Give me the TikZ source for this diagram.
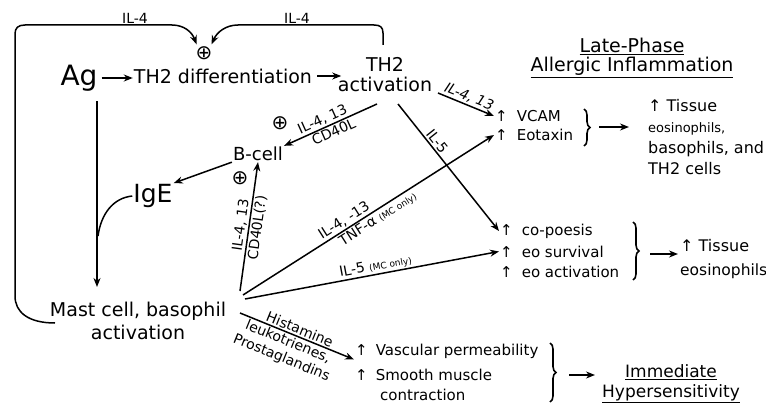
\documentclass[tikz,border=0pt]{standalone}
\usepackage{fontspec}
\setmainfont{DejaVu Sans}
\usetikzlibrary{arrows.meta,decorations.pathreplacing,calc}
\newcommand{\fsz}[2]{\fontsize{#1}{#2}\selectfont}
\begin{document}
\begin{tikzpicture}[x=1pt,y=-1pt,
  conn/.style={line width=1.5pt,-{Stealth[length=9pt,width=7pt]}},
  plainline/.style={line width=1.5pt},
  lab/.style={font=\fsz{14}{15}, inner sep=1.5pt},
  pls/.style={font=\fsz{20}{20}, inner sep=0pt},
  row/.style={font=\fsz{15}{18}, anchor=west, inner sep=1pt},
  brc/.style={decorate, decoration={brace,amplitude=6pt}, line width=1.6pt}
]
\useasboundingbox (0,0) rectangle (766,404);

% main nodes
\node[font=\fsz{28}{28}, inner sep=1pt] (ag) at (79,78) {Ag};
\node[font=\fsz{19}{20}, inner sep=1pt] (th2d) at (223,76) {TH2 differentiation};
\node[font=\fsz{19}{20}, align=center, inner sep=1pt] (th2a) at (385,75) {TH2\\activation};
\node[pls] (pl1) at (204,53) {⊕};
\node[font=\fsz{18}{20}, inner sep=1pt] (bcell) at (258,154) {B-cell};
\node[font=\fsz{25}{25}, inner sep=1pt] (ige) at (153,196) {IgE};
\node[font=\fsz{19}{23}, align=center, inner sep=1pt] (mast) at (138,321) {Mast cell, basophil\\activation};

% top labels
\node[lab] (il4a) at (135,18) {IL-4};
\node[lab] (il4b) at (297,18) {IL-4};

% title
\node[font=\fsz{19}{19}, align=center, inner sep=0pt] (late) at (632,58) {\underline{Late-Phase}\\\underline{Allergic Inflammation}};

% VCAM group
\node[row] (vcam) at (494,116) {↑\hspace{9pt}VCAM};
\node[row] (eot) at (494,135) {↑\hspace{9pt}Eotaxin};
\node[font=\fsz{16}{21.3}, align=left, anchor=west, inner sep=0pt] (tis1) at (648,137)
  {↑ Tissue\\{\fsz{13}{21.3}eosinophils,}\\basophils, and\\TH2 cells};

% eo group
\node[row] (copo) at (499,231) {↑\hspace{9pt}co-poesis};
\node[row] (surv) at (499,251.5) {↑\hspace{9pt}eo survival};
\node[row] (eoact) at (499,272) {↑\hspace{9pt}eo activation};
\node[font=\fsz{16}{24}, align=left, anchor=west, inner sep=0pt] (tis2) at (680,259)
  {↑ Tissue\\{\fsz{15.5}{24}eosinophils}};

% immediate group
\node[row] (vasc) at (354,351) {↑\hspace{8pt}Vascular permeability};
\node[row] (smooth) at (354,375) {↑\hspace{8pt}Smooth muscle};
\node[row] (contr) at (379,395) {contraction};
\node[font=\fsz{17}{20}, align=center, inner sep=0pt] (imm) at (671,384)
  {\underline{Immediate}\\\underline{Hypersensitivity}};

% plus signs
\node[pls] (pl2) at (280,123) {⊕};
\node[pls] (pl3) at (240,178) {⊕};

% coordinates for free ends
\coordinate (lpstart) at (55,323);
\coordinate (rpstart) at (383,45);
\coordinate (agdn) at (97,101);
\coordinate (agend) at (97,287);
\coordinate (igej) at (98,236);
\coordinate (t1) at (377,104);
\coordinate (t2) at (398,104);
\coordinate (t3) at (438,93);
\coordinate (mBc) at (240,291);
\coordinate (mEo) at (243,295);
\coordinate (mSv) at (245,299);
\coordinate (mHi) at (240,313);
\coordinate (b1) at (599,127);
\coordinate (b1e) at (629,127);
\coordinate (b2) at (650,254);
\coordinate (b2e) at (678,254);
\coordinate (b3) at (569,375);
\coordinate (b3e) at (595,375);

% feedback loops
\draw[conn, shorten >=2pt] (lpstart) .. controls (28,323) and (15,312) .. (15,296) -- (15,34)
  .. controls (15,28) and (18,25) .. (25,25) -- (172,25)
  .. controls (184,25) and (192,32) .. (pl1.135);
\draw[conn, shorten >=2pt] (rpstart) -- (383,33) .. controls (383,27) and (380,25) .. (374,25) -- (238,25)
  .. controls (226,25) and (217,32) .. (pl1.45);

% main flow
\draw[conn, shorten <=3pt] (ag.east) -- (ag.east -| th2d.west);
\draw[conn, shorten <=4pt] (th2d.east) -- ++(28,0) coordinate (th2in);
\draw[conn] (agdn) -- (agend);
\draw[plainline] (ige.west) .. controls (113,198) and (101,214) .. (igej);
\draw[conn] (bcell.south west) -- (ige.north east);

% TH2 activation outputs
\draw[conn] (t1) -- (bcell.north east)
  node[lab, pos=0.55, above, sloped] {IL-4, 13}
  node[lab, pos=0.5, below, sloped] {CD40L};
\draw[conn] (t2) -- (copo.west)
  node[lab, pos=0.33, above, sloped] {IL-5};
\draw[conn] (t3) -- (vcam.west)
  node[lab, pos=0.5, above, sloped, font=\fsz{14}{15}\itshape] {IL-4, 13};

% mast cell outputs
\draw[conn] (mBc) -- (bcell.south)
  node[lab, pos=0.5, above, sloped] {IL-4, 13}
  node[lab, pos=0.5, below, sloped] {CD40L(?)};
\draw[conn] (mEo) -- (eot.west)
  node[lab, pos=0.42, above, sloped] {IL-4, -13}
  node[lab, pos=0.52, below, sloped] {TNF-α {\fsz{9}{9}(MC only)}};
\draw[conn] (mSv) -- (surv.west)
  node[lab, pos=0.52, above, sloped] {IL-5 {\fsz{9}{9}(MC only)}};
\draw[conn] (mHi) -- (vasc.south west)
  node[lab, pos=0.5, above, sloped] {Histamine}
  node[lab, pos=0.45, below, sloped, align=center, font=\fsz{14}{17}] {leukotrienes,\\Prostaglandins};

% braces and result arrows
\draw[brc] (584,109) -- (584,146);
\draw[conn] (b1) -- (b1e);
\draw[brc] (633,222) -- (633,280);
\draw[conn] (b2) -- (b2e);
\draw[brc] (550,343) -- (550,402);
\draw[conn] (b3) -- (b3e);
\end{tikzpicture}
\end{document}
